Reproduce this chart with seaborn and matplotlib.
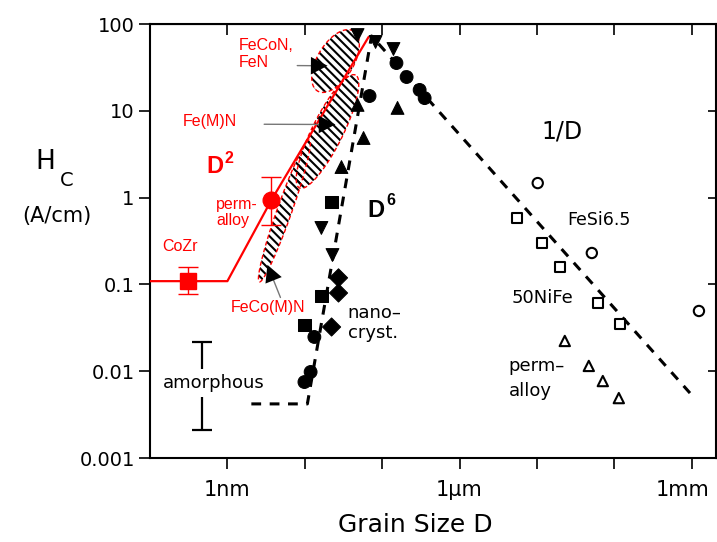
import numpy as np
import pandas as pd
import matplotlib
matplotlib.use("Agg")
import matplotlib.pyplot as plt
import matplotlib.transforms as mtransforms
import seaborn as sns

# ---------------- data (grain size D in nm, Hc in A/cm) ----------------
nano_circle_x = [153, 207, 305, 354, 68.7, 13.3, 11.9, 9.9]
nano_circle_y = [35.5, 24.5, 17.4, 14.0, 14.8, 0.0248, 0.0098, 0.0075]
nano_up_x = [48.1, 158, 57.5, 29.8]
nano_up_y = [11.7, 10.8, 4.86, 2.25]
nano_down_x = [48.1, 82.2, 140, 16.4, 22.8]
nano_down_y = [74.6, 62.1, 51.5, 0.447, 0.218]
nano_square_x = [22.2, 16.4, 9.9]
nano_square_y = [0.89, 0.0735, 0.034]
nano_diamond_x = [27.3, 27.3, 22.2]
nano_diamond_y = [0.119, 0.0796, 0.0323]

fesi_x = [10240, 51200, 1.24e6]
fesi_y = [1.47, 0.230, 0.0494]
nife_x = [5480, 11530, 19720, 61200, 117800]
nife_y = [0.582, 0.300, 0.158, 0.0611, 0.035]
permalloy_x = [22900, 46800, 71000, 114300]
permalloy_y = [0.0223, 0.0115, 0.0077, 0.0049]

trend_x = [2.04, 10.8, 73, 9.5e5]          # amorphous / D^6 / 1/D guide
trend_y = [0.0042, 0.0042, 72.8, 0.0056]

film_line_x = [0.1, 1.0, 3.71, 66.7]       # red D^2 guide
film_line_y = [0.109, 0.109, 0.94, 70.8]

cozr_x, cozr_y, cozr_lo, cozr_hi = 0.313, 0.109, 0.0775, 0.158
pfilm_x, pfilm_y, pfilm_lo, pfilm_hi = 3.71, 0.94, 0.483, 1.73
amorph_x, amorph_lo, amorph_hi = 0.475, 0.0021, 0.0217

# hatched regions: major-axis end points (nm, A/cm) and half width (decades)
region_names = ["FeCo(M)N", "FeCoN, FeN", "Fe(M)N"]
region_p0 = [(2.59, 0.107), (14.6, 16.9), (8.54, 1.29)]
region_p1 = [(11.5, 4.61), (42.7, 83.0), (45.3, 25.8)]
region_halfwidth = [0.095, 0.235, 0.2]

xtick_vals = [1, 10, 100, 1e3, 1e4, 1e5, 1e6]
xtick_labels = ["1nm", "", "", "1\u00b5m", "", "", "1mm"]
ytick_vals = [1e-3, 1e-2, 1e-1, 1, 10, 100]
ytick_labels = ["0.001", "0.01", "0.1", "1", "10", "100"]

# ---------------- figure ----------------
sns.set_style("ticks")
plt.rcParams["font.family"] = ["DejaVu Sans"]
plt.rcParams["hatch.linewidth"] = 1.5
for k in ["text.color", "axes.labelcolor", "xtick.color", "ytick.color", "axes.edgecolor"]:
    plt.rcParams[k] = "black"

W, H = 717, 542
fig = plt.figure(figsize=(W / 100, H / 100), dpi=100)
ax = fig.add_axes([150 / W, 1 - 458 / H, 566 / W, 434 / H])
ax.set_xscale("log")
ax.set_yscale("log")
ax.set_xlim(0.1, 2.06e6)
ax.set_ylim(1e-3, 100)

RED = "#ff0000"

# aspect factor (pixels per decade y / pixels per decade x)
bb = ax.get_window_extent()
kx = bb.width / np.log10(2.06e6 / 0.1)
ky = bb.height / 5.0
K = ky / kx

def region_poly(p0, p1, hw, n=200):
    u0, v0 = np.log10(p0[0]), np.log10(p0[1]) * K
    u1, v1 = np.log10(p1[0]), np.log10(p1[1]) * K
    cu, cv = (u0 + u1) / 2, (v0 + v1) / 2
    a = np.hypot(u1 - u0, v1 - v0) / 2
    du, dv = (u1 - u0) / (2 * a), (v1 - v0) / (2 * a)
    t = np.linspace(0, 2 * np.pi, n)
    u = cu + a * np.cos(t) * du - hw * np.sin(t) * dv
    v = cv + a * np.cos(t) * dv + hw * np.sin(t) * du
    return 10 ** u, 10 ** (v / K)

for p0, p1, hw in zip(region_p0, region_p1, region_halfwidth):
    px, py = region_poly(p0, p1, hw)
    ax.fill(px, py, facecolor="none", edgecolor="black", hatch="\\\\\\\\", lw=0, zorder=2)
for p0, p1, hw in zip(region_p0, region_p1, region_halfwidth):
    px, py = region_poly(p0, p1, hw)
    ax.plot(px, py, color=RED, lw=1.0, ls=(0, (3, 2)), zorder=3)

# black dashed guide
sns.lineplot(x=trend_x, y=trend_y, ax=ax, color="black", lw=2.2, sort=False,
             estimator=None, zorder=4)
ax.lines[-1].set_linestyle((0, (3.2, 2.8)))

# red guide line
sns.lineplot(x=film_line_x, y=film_line_y, ax=ax, color=RED, lw=1.6, sort=False,
             estimator=None, zorder=5)

# nanocrystalline (filled)
nano = pd.concat([
    pd.DataFrame({"D": nano_circle_x, "Hc": nano_circle_y, "kind": "circle"}),
    pd.DataFrame({"D": nano_up_x, "Hc": nano_up_y, "kind": "up"}),
    pd.DataFrame({"D": nano_down_x, "Hc": nano_down_y, "kind": "down"}),
    pd.DataFrame({"D": nano_square_x, "Hc": nano_square_y, "kind": "square"}),
    pd.DataFrame({"D": nano_diamond_x, "Hc": nano_diamond_y, "kind": "diamond"}),
])
sns.scatterplot(data=nano, x="D", y="Hc", style="kind",
                markers={"circle": "o", "up": "^", "down": "v", "square": "s", "diamond": "D"},
                color="black", edgecolor="black", s=85, legend=False, ax=ax, zorder=6)

# conventional (open)
conv = pd.concat([
    pd.DataFrame({"D": fesi_x, "Hc": fesi_y, "kind": "FeSi6.5"}),
    pd.DataFrame({"D": nife_x, "Hc": nife_y, "kind": "50NiFe"}),
    pd.DataFrame({"D": permalloy_x, "Hc": permalloy_y, "kind": "permalloy"}),
])
sns.scatterplot(data=conv, x="D", y="Hc", style="kind",
                markers={"FeSi6.5": "o", "50NiFe": "s", "permalloy": "^"},
                facecolor="white", edgecolor="black", linewidth=1.5, s=55,
                legend=False, ax=ax, zorder=6)

# red film points with error bars
ax.errorbar([cozr_x], [cozr_y], yerr=[[cozr_y - cozr_lo], [cozr_hi - cozr_y]],
            fmt="s", color=RED, ms=11, capsize=7, elinewidth=1.0, capthick=1.0, zorder=7)
ax.errorbar([pfilm_x], [pfilm_y], yerr=[[pfilm_y - pfilm_lo], [pfilm_hi - pfilm_y]],
            fmt="o", color=RED, ms=12, capsize=7, elinewidth=1.0, capthick=1.0, zorder=7)

# amorphous range bar
amid = np.sqrt(amorph_lo * amorph_hi)
ax.errorbar([amorph_x], [amid], yerr=[[amid - amorph_lo], [amorph_hi - amid]],
            fmt="none", ecolor="black", elinewidth=1.6, capsize=7, capthick=1.6, zorder=6)
ax.text(0.659, 0.00731, "amorphous", ha="center", va="center", fontsize=13, zorder=8,
        bbox=dict(facecolor="white", edgecolor="none", pad=3.5))

# arrows
def arrow(tail, tip):
    ax.annotate("", xy=tip, xytext=tail,
                arrowprops=dict(arrowstyle="-", color="#777777", lw=1.0), zorder=8)
    ax.annotate("", xy=tip, xytext=(tip[0] ** 0.97 * tail[0] ** 0.03, tip[1] ** 0.97 * tail[1] ** 0.03),
                arrowprops=dict(arrowstyle="-|>,head_length=0.8,head_width=0.42",
                                color="black", lw=0, mutation_scale=15), zorder=9)

arrow((7.36, 33.2), (19.7, 33.0))
arrow((2.75, 7.0), (24.9, 6.95))
arrow((5.0, 0.066), (3.29, 0.168))

# red labels
rfont = dict(family=["Liberation Sans", "DejaVu Sans"], color=RED)
ax.text(1.39, 45.1, "FeCoN,\nFeN", ha="left", va="center", fontsize=11.5, linespacing=1.1, **rfont)
ax.text(0.262, 7.43, "Fe(M)N", ha="left", va="center", fontsize=11.5, **rfont)
ax.text(0.535, 2.31, "D", ha="left", va="center", fontsize=17, fontweight="bold", **rfont)
ax.text(0.915, 2.79, "2", ha="left", va="center", fontsize=11.5, fontweight="bold", **rfont)
ax.text(0.721, 0.673, "perm-\nalloy", ha="left", va="center", fontsize=11.5, linespacing=1.15, **rfont)
ax.text(0.144, 0.270, "CoZr", ha="left", va="center", fontsize=11.5, **rfont)
ax.text(1.09, 0.0535, "FeCo(M)N", ha="left", va="center", fontsize=11.5, **rfont)

# black labels
bfont = dict(family=["Liberation Sans", "DejaVu Sans"], color="black")
ax.text(64.7, 0.702, "D", ha="left", va="center", fontsize=17, fontweight="bold", **bfont)
ax.text(114, 0.937, "6", ha="left", va="center", fontsize=11.5, fontweight="bold", **bfont)
ax.text(35.7, 0.0359, "nano\u2013\ncryst.", ha="left", va="center", fontsize=13, linespacing=1.2)
ax.text(11500, 5.70, "1/D", ha="left", va="center", fontsize=17)
ax.text(25000, 0.552, "FeSi6.5", ha="left", va="center", fontsize=12.5)
ax.text(4720, 0.0697, "50NiFe", ha="left", va="center", fontsize=13)
ax.text(4320, 0.00824, "perm\u2013\nalloy", ha="left", va="center", fontsize=13, linespacing=1.5)

# axes styling
ax.set_xticks(xtick_vals)
ax.set_xticklabels(xtick_labels, fontsize=15)
ax.set_yticks(ytick_vals)
ax.set_yticklabels(ytick_labels, fontsize=14)
ax.xaxis.set_minor_locator(matplotlib.ticker.NullLocator())
ax.yaxis.set_minor_locator(matplotlib.ticker.NullLocator())
ax.tick_params(axis="x", direction="out", length=8, width=1.2, pad=8)
ax.tick_params(axis="y", direction="out", length=8, width=1.2, pad=3)
# keep the "1mm" label inside the figure
last = ax.get_xticklabels()[-1]
last.set_transform(last.get_transform() + mtransforms.ScaledTranslation(-9 / 100, 0, fig.dpi_scale_trans))
ax.set_xlabel("")
ax.set_ylabel("")
for s in ax.spines.values():
    s.set_visible(True)
    s.set_linewidth(1.5)
    s.set_color("black")

top = ax.secondary_xaxis("top")
top.set_xticks(xtick_vals)
top.xaxis.set_minor_locator(matplotlib.ticker.NullLocator())
top.tick_params(direction="in", length=8, width=1.2, labeltop=False)
right = ax.secondary_yaxis("right")
right.set_yticks(ytick_vals)
right.yaxis.set_minor_locator(matplotlib.ticker.NullLocator())
right.tick_params(direction="in", length=6, width=1.2, labelright=False)

# axis titles
fig.text(415 / W, 1 - 525 / H, "Grain Size D", ha="center", va="center", fontsize=18)
fig.text(45 / W, 1 - 162 / H, "H", ha="center", va="center", fontsize=19)
fig.text(67 / W, 1 - 181 / H, "C", ha="center", va="center", fontsize=14)
fig.text(57 / W, 1 - 216 / H, "(A/cm)", ha="center", va="center", fontsize=15)

fig.savefig("out.png", dpi=100)
